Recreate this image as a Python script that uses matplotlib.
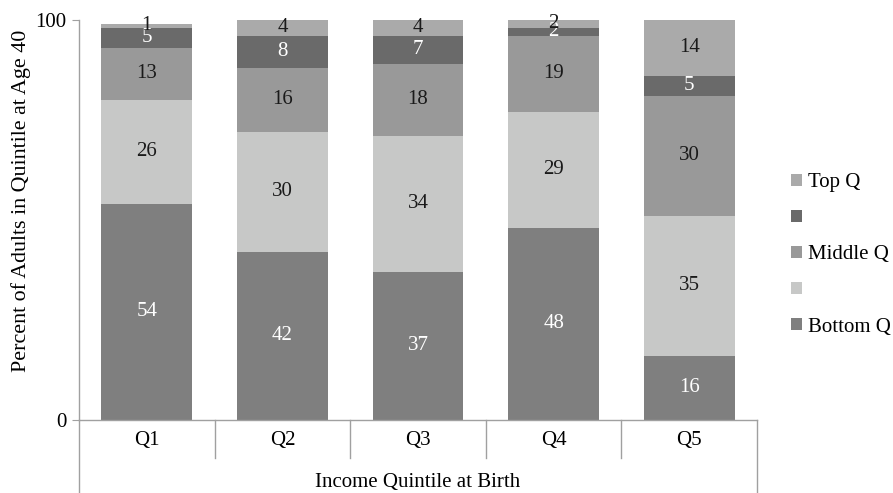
import numpy as np
import matplotlib.pyplot as plt
from matplotlib.lines import Line2D
from matplotlib.patches import Patch

plt.rcParams['font.family'] = ['Liberation Serif', 'DejaVu Serif']
FS = 15

quintiles = ['Q1', 'Q2', 'Q3', 'Q4', 'Q5']
bottom_q = [54, 42, 37, 48, 16]
second_q = [26, 30, 34, 29, 35]
middle_q = [13, 16, 18, 19, 30]
fourth_q = [5, 8, 7, 2, 5]
top_q = [1, 4, 4, 2, 14]

# (legend label, values, fill, label colour), stacked bottom to top
series = [
    ('Bottom Q', bottom_q, '#7f7f7f', 'white'),
    ('', second_q, '#c7c8c7', '#1a1a1a'),
    ('Middle Q', middle_q, '#999999', '#1a1a1a'),
    ('', fourth_q, '#6a6a6a', 'white'),
    ('Top Q', top_q, '#aaaaaa', '#1a1a1a'),
]

W, H = 893, 493
fig = plt.figure(figsize=(W / 100, H / 100), dpi=100)
ax = fig.add_axes([79 / W, 73 / H, (757 - 79) / W, 400 / H])

x = np.arange(len(quintiles))
base = np.zeros(len(quintiles))
handles = []
for name, vals, color, tcol in series:
    vals = np.array(vals, dtype=float)
    ax.bar(x, vals, width=0.67, bottom=base, color=color, edgecolor='none')
    for xi, b, v in zip(x, base, vals):
        ax.text(xi, b + v / 2, f'{int(v)}', ha='center', va='center',
                fontsize=FS, color=tcol)
    handles.append(Patch(facecolor=color, edgecolor='none', label=name))
    base += vals

ax.set_xlim(-0.5, len(quintiles) - 0.5)
ax.set_ylim(0, 100)
ax.set_yticks([0, 100])
ax.tick_params(axis='y', direction='out', length=5, color='#a0a0a0',
               labelsize=FS, pad=4)
ax.set_xticks([])
for s in ['top', 'right']:
    ax.spines[s].set_visible(False)
for s in ['left', 'bottom']:
    ax.spines[s].set_color('#a0a0a0')
    ax.spines[s].set_linewidth(1.0)

# category axis: group brackets below the bars
trans = ax.transAxes
drop = -73 / 400
for xv in [0, 1]:
    ax.add_line(Line2D([xv, xv], [0, drop], transform=trans, color='#a0a0a0',
                       lw=1.0, clip_on=False))
for k in range(1, len(quintiles)):
    xv = k / len(quintiles)
    ax.add_line(Line2D([xv, xv], [0, -38 / 400], transform=trans,
                       color='#a0a0a0', lw=1.0, clip_on=False))
for xi, q in zip(x, quintiles):
    ax.text(xi, -20 / 400 * 100, q, ha='center', va='center', fontsize=FS)
ax.text(0.5, -62 / 400, 'Income Quintile at Birth', transform=trans,
        ha='center', va='center', fontsize=FS)

ax.set_ylabel('Percent of Adults in Quintile at Age 40', fontsize=15.8)
ax.yaxis.set_label_coords(-(79 - 31) / 678, (420 - 201) / 400)

ax.legend(handles[::-1], [h.get_label() for h in handles[::-1]],
          loc='center left', bbox_to_anchor=((791 - 79) / 678, (420 - 255) / 400),
          frameon=False, fontsize=FS, handlelength=0.53, handleheight=0.53,
          handletextpad=0.3, labelspacing=0.82, borderpad=0, borderaxespad=0)

fig.savefig('out.png', dpi=100)
